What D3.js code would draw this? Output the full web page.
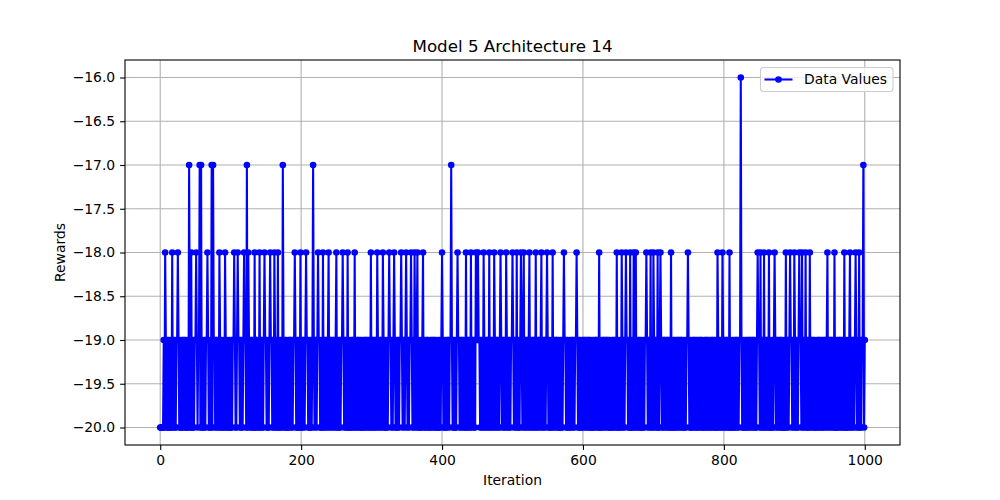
<!DOCTYPE html>
<html>
<head>
<meta charset="utf-8">
<script src="https://cdn.jsdelivr.net/npm/d3@7"></script>
<style>
  html, body { margin: 0; padding: 0; background: #fff; }
  svg { display: block; font-family: "DejaVu Sans", sans-serif; }
</style>
</head>
<body>
<svg id="chart" width="1000" height="500"></svg>
<script>
// ---- data ----
const chartTitle = "Model 5 Architecture 14";
const xLabel = "Iteration";
const yLabel = "Rewards";
const seriesName = "Data Values";
const xTicks = [0, 200, 400, 600, 800, 1000];
const yTicks = [-20.0, -19.5, -19.0, -18.5, -18.0, -17.5, -17.0, -16.5, -16.0];

// base rewards per iteration: "0" = -20, "1" = -19 (rows of 50 iterations)
const baseRows = [
  "0000010110 1010010101 1001101010 0101101001 0110100101",
  "1010110010 1001011010 0101001101 1010110100 1011010010",
  "0101101001 0110101010 1101001011 0100101101 0101100101",
  "1010010110 1011010100 1010110101 0010110101 1010010101",
  "0101101011 0100101010 1101011001 0101101010 0110101101",
  "1001010110 1011001010 0101101010 1101010010 1011010101",
  "0110101001 0101101101 0010101101 0101001010 1101011010",
  "1010110101 0010110100 1011010101 1001010110 1010010101",
  "0101001011 0110101010 0101101011 0100101101 0101101001",
  "1011010100 1010110101 1010010110 1010101101 0010101011",
  "0101101010 0101011010 1101001010 1101010110 1001011010",
  "1010010101 1011010010 1010110101 0010110101 1010101001",
  "0110101101 0100101011 0101001010 1101101010 0101011010",
  "1001011010 1011010100 1010110101 0101001011 0101101010",
  "0101101001 0101011010 1101010010 1010110101 1010010110",
  "1010010110 1010101101 0010110101 0101101010 0110101011",
  "0101101010 1001010110 1011010100 1010101101 0110100101",
  "1010110101 0110101001 0101011010 1101001010 1101011010",
  "0101001011 0101101010 1010110101 0010110101 0101101001",
  "1011010100 1010110101 0101001011 0101101010 1010101100",
  "1"
];
// iterations that reached -18
const spikes18 = [7, 17, 25, 44, 51, 67, 84, 92, 105, 110, 119, 125, 134, 141, 148, 156, 162, 167,
  191, 199, 207, 224, 231, 239, 250, 259, 266, 276, 299, 308, 316, 325, 332, 342, 349, 356, 361,
  365, 373, 400, 422, 434, 441, 448, 451, 459, 467, 474, 483, 491, 500, 506, 512, 516, 524, 533,
  541, 549, 557, 573, 591, 623, 648, 655, 661, 667, 672, 675, 690, 696, 700, 706, 710, 725, 749,
  791, 798, 808, 848, 852, 857, 864, 872, 888, 894, 900, 907, 911, 916, 922, 947, 957, 971, 979,
  987, 992];
// iterations that reached -17
const spikes17 = [41, 56, 58, 73, 75, 123, 174, 217, 413, 998];
// iterations that reached -16
const spikes16 = [824];

const baseStr = baseRows.join("").replace(/\s/g, "");
const rewards = Array.from(baseStr, c => (c === "1" ? -19 : -20));
spikes18.forEach(i => rewards[i] = -18);
spikes17.forEach(i => rewards[i] = -17);
spikes16.forEach(i => rewards[i] = -16);
const data = rewards.map((v, i) => ({ x: i, y: v }));

// ---- layout ----
const W = 1000, H = 500;
const m = { left: 125, right: 100, top: 60, bottom: 55 };
const pw = W - m.left - m.right, ph = H - m.top - m.bottom;
const svg = d3.select("#chart");
const g = svg.append("g").attr("transform", `translate(${m.left},${m.top})`);

const xMin = 0, xMax = 1000, yMin = -20, yMax = -16;
const xPad = (xMax - xMin) * 0.05, yPad = (yMax - yMin) * 0.05;
const x = d3.scaleLinear().domain([xMin - xPad, xMax + xPad]).range([0, pw]);
const y = d3.scaleLinear().domain([yMin - yPad, yMax + yPad]).range([ph, 0]);

const fmtY = d => d3.format(".1f")(d).replace("-", "\u2212");

// grid
g.append("g").selectAll("line").data(xTicks).join("line")
  .attr("x1", d => x(d)).attr("x2", d => x(d)).attr("y1", 0).attr("y2", ph)
  .attr("stroke", "#b0b0b0").attr("stroke-width", 1.1);
g.append("g").selectAll("line").data(yTicks).join("line")
  .attr("x1", 0).attr("x2", pw).attr("y1", d => y(d)).attr("y2", d => y(d))
  .attr("stroke", "#b0b0b0").attr("stroke-width", 1.1);

// data line
const clip = g.append("clipPath").attr("id", "clip").append("rect").attr("width", pw).attr("height", ph);
const plot = g.append("g").attr("clip-path", "url(#clip)");
plot.append("path").datum(data)
  .attr("fill", "none").attr("stroke", "#0000ff").attr("stroke-width", 2.08)
  .attr("stroke-linejoin", "round")
  .attr("d", d3.line().x(d => x(d.x)).y(d => y(d.y)));
plot.append("g").selectAll("circle").data(data).join("circle")
  .attr("cx", d => x(d.x)).attr("cy", d => y(d.y)).attr("r", 3.3)
  .attr("fill", "#0000ff");

// axes
const xAxis = d3.axisBottom(x).tickValues(xTicks).tickFormat(d3.format("d")).tickSize(4.9).tickPadding(4.9);
const yAxis = d3.axisLeft(y).tickValues(yTicks).tickFormat(fmtY).tickSize(4.9).tickPadding(4.9);
const gx = g.append("g").attr("transform", `translate(0,${ph})`).call(xAxis);
const gy = g.append("g").call(yAxis);
[gx, gy].forEach(a => {
  a.select(".domain").remove();
  a.selectAll("line").attr("stroke", "#000").attr("stroke-width", 1.1);
  a.selectAll("text").attr("fill", "#000").style("font-size", "13.9px").style("font-family", "DejaVu Sans, sans-serif");
});

// frame
g.append("rect").attr("width", pw).attr("height", ph)
  .attr("fill", "none").attr("stroke", "#000").attr("stroke-width", 1.1);

// labels
svg.append("text").attr("x", m.left + pw / 2).attr("y", 51.5).attr("text-anchor", "middle")
  .style("font-size", "16.7px").text(chartTitle);
svg.append("text").attr("x", m.left + pw / 2).attr("y", 485).attr("text-anchor", "middle")
  .style("font-size", "13.9px").text(xLabel);
svg.append("text").attr("transform", `translate(65,${m.top + ph / 2}) rotate(-90)`)
  .attr("text-anchor", "middle").style("font-size", "13.9px").text(yLabel);

// legend
const lg = svg.append("g").attr("transform", "translate(760.5,67.5)");
lg.append("rect").attr("width", 132.5).attr("height", 24).attr("rx", 3)
  .attr("fill", "#fff").attr("fill-opacity", 0.8).attr("stroke", "#cccccc").attr("stroke-width", 1.1);
lg.append("line").attr("x1", 4).attr("x2", 32).attr("y1", 12).attr("y2", 12)
  .attr("stroke", "#0000ff").attr("stroke-width", 2.08);
lg.append("circle").attr("cx", 18).attr("cy", 12).attr("r", 3.3).attr("fill", "#0000ff");
lg.append("text").attr("x", 43.5).attr("y", 16.8).style("font-size", "13.9px").text(seriesName);
</script>
</body>
</html>
